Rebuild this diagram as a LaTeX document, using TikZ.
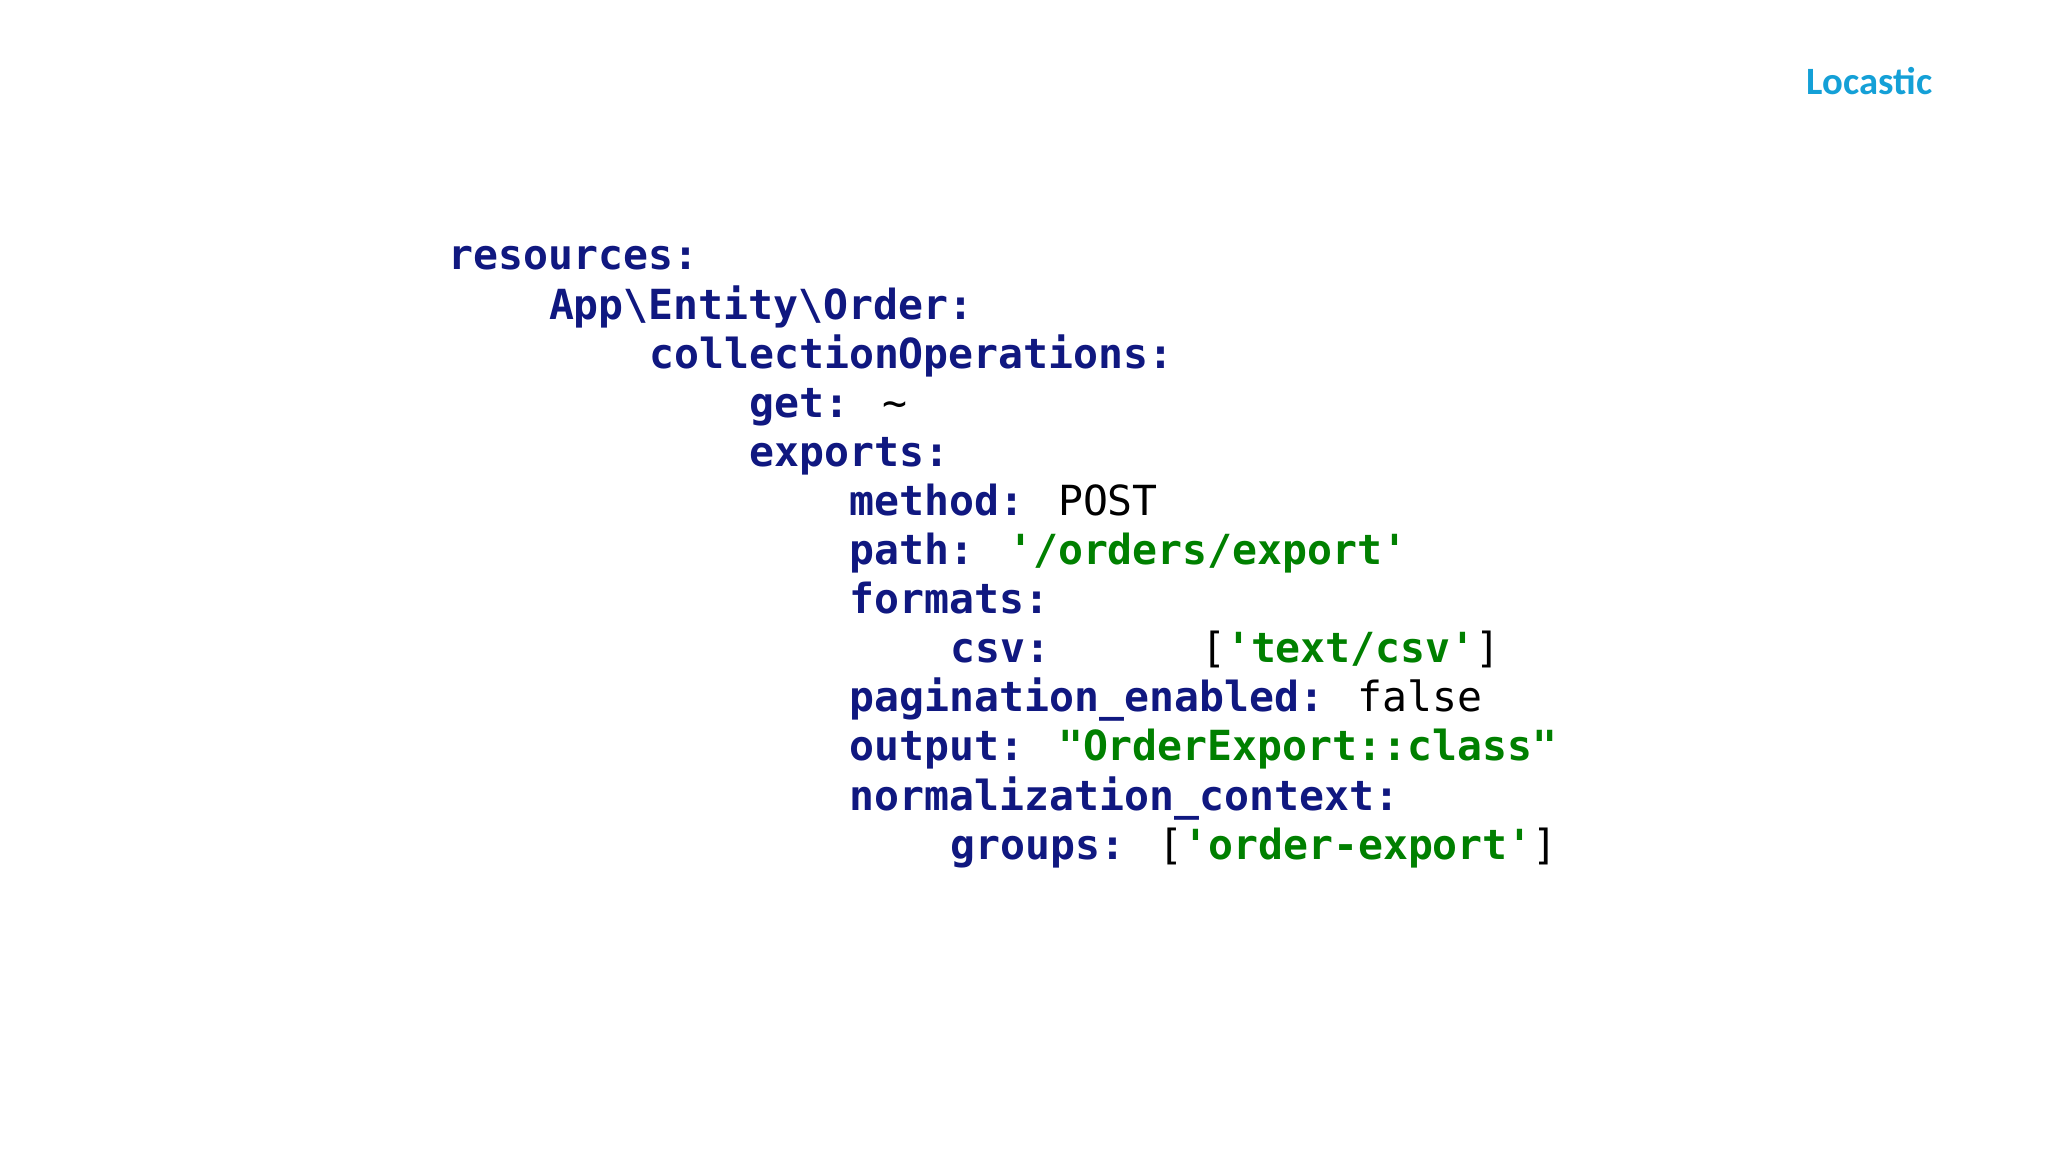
\documentclass[tikz,border=0pt]{standalone}
\usepackage{fontspec}
\newfontfamily\code{DejaVu Sans Mono}
\newfontfamily\brand{Carlito}
\definecolor{keyc}{RGB}{16,24,128}
\definecolor{strc}{RGB}{0,128,0}
\definecolor{brandc}{RGB}{20,160,215}
\newcommand{\K}[1]{\textcolor{keyc}{\bfseries #1}}
\newcommand{\G}[1]{\textcolor{strc}{\bfseries #1}}
\newcommand{\sq}{\textquotesingle}
\newcommand{\dq}{\textquotedbl}
\newcommand{\ind}[1]{\hspace*{#1\dimexpr 0.602\fontdimen6\font\relax}}
\begin{document}
\begin{tikzpicture}[x=1cm,y=1cm,
  ln/.style={anchor=base west,inner sep=0pt,font=\code\fontsize{11.8pt}{13pt}\selectfont}]
\useasboundingbox[fill=white] (0,0) rectangle (20.48,11.52);
\node[anchor=base east,inner sep=0pt,text=brandc,font=\brand\bfseries\fontsize{11pt}{13pt}\selectfont] (brand) at (19.33,10.57) {Locastic};
\def\X{4.48}\def\C{0.2508}\def\Y{8.82}\def\D{0.491}
\node[ln] (l0) at (\X,\Y) {\K{resources:}};
\node[ln] (l1) at (\X+4*\C,\Y-1*\D) {\K{App\textbackslash Entity\textbackslash Order:}};
\node[ln] (l2) at (\X+8*\C,\Y-2*\D) {\K{collectionOperations:}};
\node[ln] (l3) at (\X+12*\C,\Y-3*\D) {\K{get:} \textasciitilde};
\node[ln] (l4) at (\X+12*\C,\Y-4*\D) {\K{exports:}};
\node[ln] (l5) at (\X+16*\C,\Y-5*\D) {\K{method:} POST};
\node[ln] (l6) at (\X+16*\C,\Y-6*\D) {\K{path:} \G{\sq/orders/export\sq}};
\node[ln] (l7) at (\X+16*\C,\Y-7*\D) {\K{formats:}};
\node[ln] (l8) at (\X+20*\C,\Y-8*\D) {\K{csv:}};
\node[ln] (l8b) at (\X+30*\C,\Y-8*\D) {[\G{\sq text/csv\sq}]};
\node[ln] (l9) at (\X+16*\C,\Y-9*\D) {\K{pagination\_enabled:} false};
\node[ln] (l10) at (\X+16*\C,\Y-10*\D) {\K{output:} \G{\dq OrderExport::class\dq}};
\node[ln] (l11) at (\X+16*\C,\Y-11*\D) {\K{normalization\_context:}};
\node[ln] (l12) at (\X+20*\C,\Y-12*\D) {\K{groups:} [\G{\sq order-export\sq}]};
\end{tikzpicture}
\end{document}
